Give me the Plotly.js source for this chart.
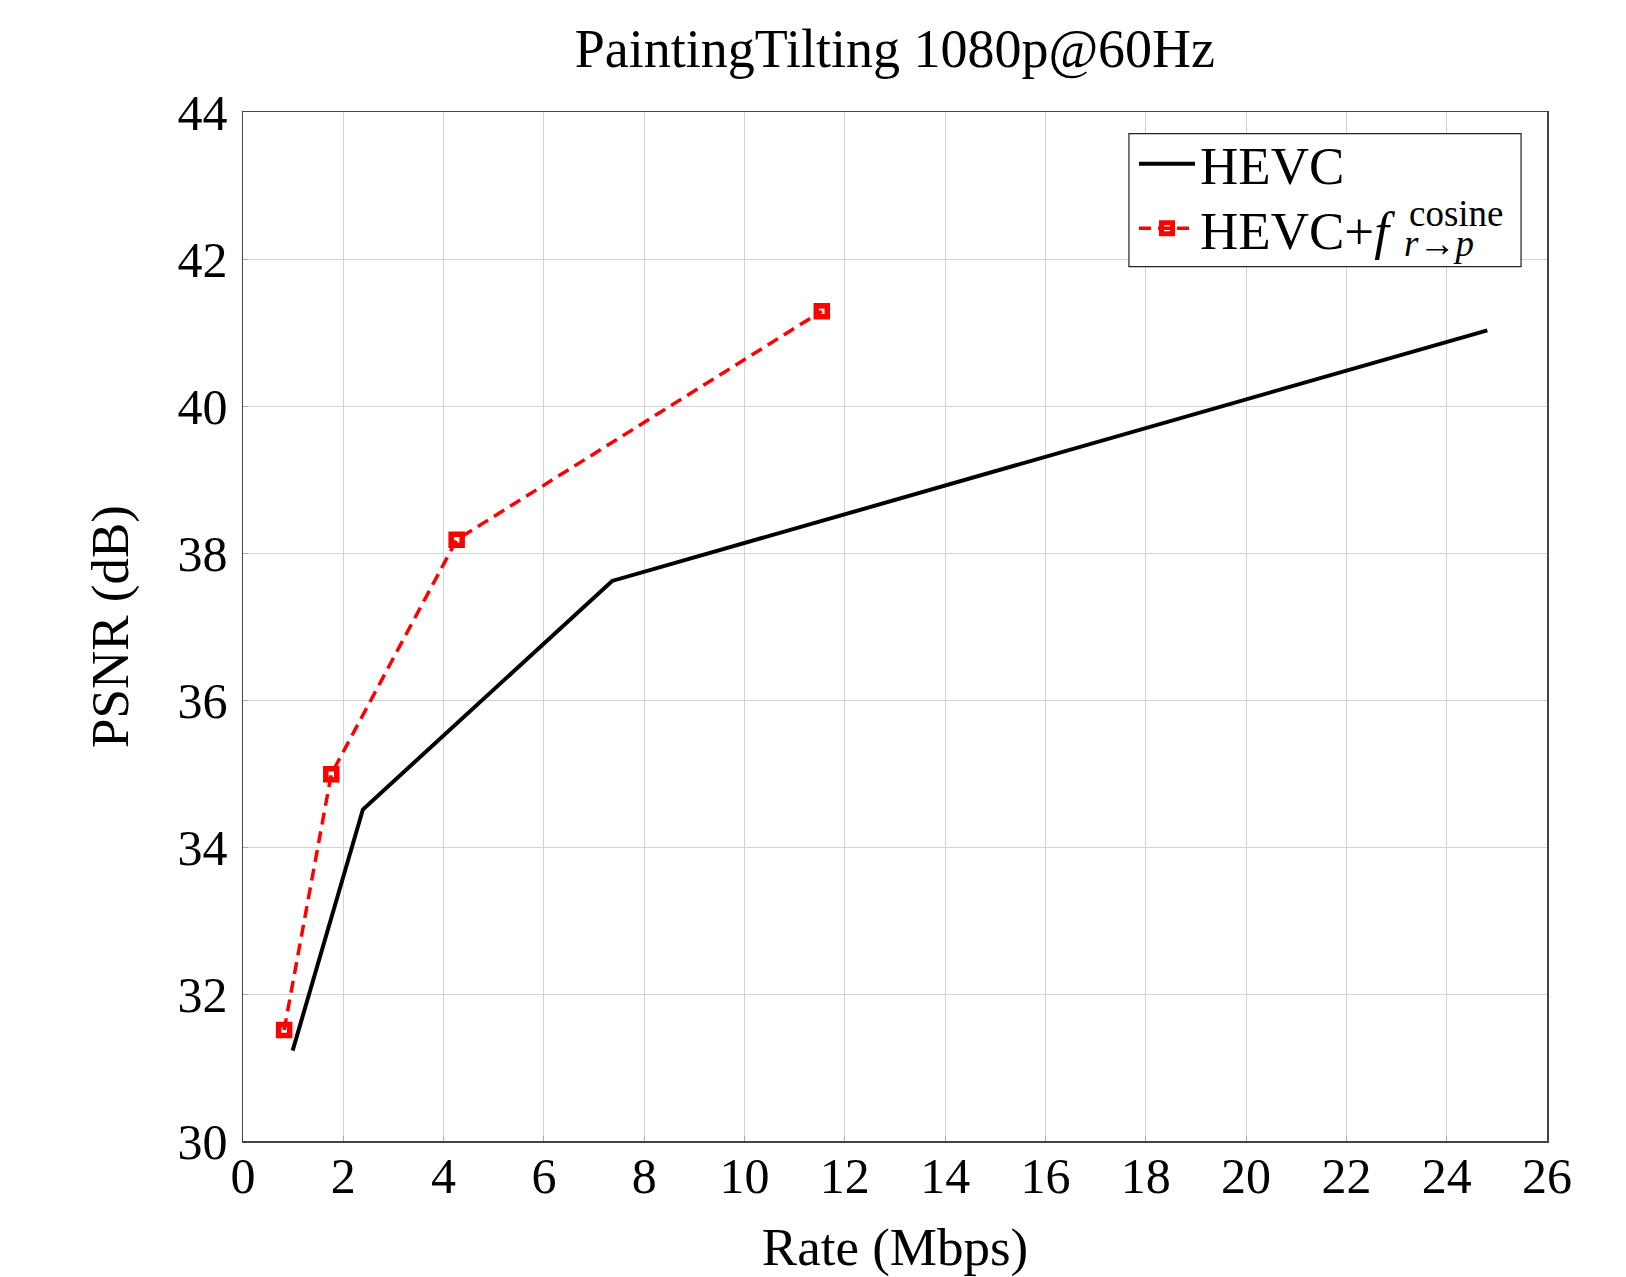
<!DOCTYPE html>
<html>
<head>
<meta charset="utf-8">
<script src="https://cdn.plot.ly/plotly-3.0.1.min.js"></script>
<style>html,body{margin:0;padding:0;background:#fff;}#chart{width:1626px;height:1277px;}</style>
</head>
<body>
<div id="chart"></div>
<script>
// Data
const hevcRate = [0.99, 2.39, 7.36, 24.81];
const hevcPsnr = [31.23, 34.51, 37.62, 41.03];
const cosRate = [0.82, 1.76, 4.26, 11.54];
const cosPsnr = [31.51, 34.99, 38.18, 41.29];
const xTicks = [0, 2, 4, 6, 8, 10, 12, 14, 16, 18, 20, 22, 24, 26];
const yTicks = [30, 32, 34, 36, 38, 40, 42, 44];
const titleText = 'PaintingTilting 1080p@60Hz';
const xTitle = 'Rate (Mbps)';
const yTitle = 'PSNR (dB)';
const name1 = 'HEVC';
const name2 = 'HEVC+<i>f</i>';
const name2Sup = 'cosine';
const name2Sub = '<i>r</i>→<i>p</i>';

const FONT = 'Liberation Serif, Times New Roman, serif';

const traces = [
  {
    x: hevcRate, y: hevcPsnr, name: name1, type: 'scatter', mode: 'lines',
    line: {color: '#000000', width: 4}, legend: 'legend'
  },
  {
    x: cosRate, y: cosPsnr, name: name2, type: 'scatter', mode: 'lines+markers',
    line: {color: '#ff0000', width: 3.5, dash: '12px,7px'},
    marker: {symbol: 'square-open', size: 11, color: '#ff0000', line: {color: '#ff0000', width: 5.5}},
    legend: 'legend2'
  }
];

const axisCommon = {
  showline: true, mirror: true, linecolor: '#444444', linewidth: 1.5,
  showgrid: true, gridcolor: '#d3d3d3', gridwidth: 1,
  zeroline: false,
  ticks: 'inside', ticklen: 5, tickcolor: '#aaaaaa', tickwidth: 1,
  tickfont: {family: FONT, size: 50, color: '#000000'}
};

const legendCommon = {
  xanchor: 'left', yanchor: 'top',
  bgcolor: 'rgba(0,0,0,0)', borderwidth: 0,
  font: {family: FONT, size: 53, color: '#000000'},
  itemwidth: 56, tracegroupgap: 0
};

const layout = {
  width: 1626, height: 1277,
  margin: {l: 243, r: 79, t: 112, b: 136, pad: 0},
  paper_bgcolor: '#ffffff', plot_bgcolor: '#ffffff',
  font: {family: FONT, color: '#000000'},
  title: {
    text: titleText, font: {family: FONT, size: 54, color: '#000000'},
    x: 0.5504, xanchor: 'center', y: 0.962, yref: 'container', yanchor: 'middle'
  },
  xaxis: Object.assign({}, axisCommon, {
    range: [0, 26], tickmode: 'array', tickvals: xTicks, ticktext: xTicks.map(String),
    ticklabelstandoff: -10,
    title: {text: xTitle, font: {family: FONT, size: 53, color: '#000000'}, standoff: 30}
  }),
  yaxis: Object.assign({}, axisCommon, {
    range: [30, 44], tickmode: 'array', tickvals: yTicks, ticktext: yTicks.map(String),
    ticklabelstandoff: 4,
    title: {text: yTitle, font: {family: FONT, size: 53, color: '#000000'}, standoff: 32}
  }),
  showlegend: true,
  legend: Object.assign({}, legendCommon, {x: 0.6833, y: 0.9896}),
  legend2: Object.assign({}, legendCommon, {x: 0.6833, y: 0.9269}),
  shapes: [
    {
      type: 'rect', xref: 'paper', yref: 'paper', x0: 0.6794, x1: 0.9801, y0: 0.8497, y1: 0.9789,
      fillcolor: '#ffffff', line: {color: '#222222', width: 1.2}, layer: 'above'
    }
  ],
  annotations: [
    {
      text: name2Sup, xref: 'paper', yref: 'paper', x: 0.8926, y: 0.9017,
      xanchor: 'left', yanchor: 'middle', showarrow: false,
      font: {family: FONT, size: 37, color: '#000000'}
    },
    {
      text: name2Sub, xref: 'paper', yref: 'paper', x: 0.8888, y: 0.8725,
      xanchor: 'left', yanchor: 'middle', showarrow: false,
      font: {family: FONT, size: 37, color: '#000000'}
    }
  ]
};

Plotly.newPlot('chart', traces, layout, {staticPlot: true, displayModeBar: false});
</script>
</body>
</html>
